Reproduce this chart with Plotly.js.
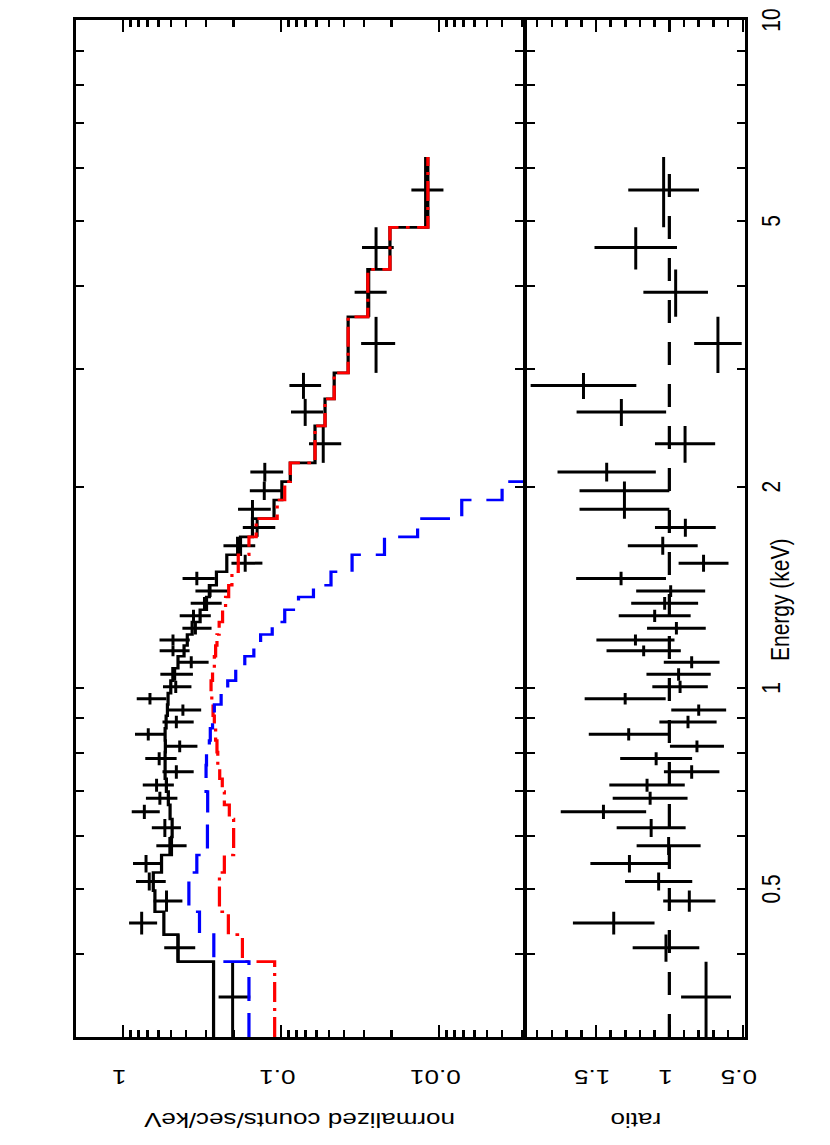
<!DOCTYPE html>
<html><head><meta charset="utf-8">
<script src="https://cdn.plot.ly/plotly-3.0.1.min.js"></script>
<style>
html,body{margin:0;padding:0;background:#fff;overflow:hidden;width:830px;height:1145px;}
#wrap{position:absolute;left:0;top:0;width:1145px;height:669px;transform-origin:0 0;transform:matrix(0,-1,1.24,0,0,1145);}
</style></head><body><div id="wrap"><div id="plot"></div></div>
<script>
// ---- data ----
const energyEdges = [0.300,0.389,0.427,0.462,0.497,0.529,0.562,0.598,0.636,0.668,0.699,0.731,0.766,0.801,0.834,0.870,0.908,0.944,0.982,1.025,1.070,1.115,1.157,1.202,1.255,1.309,1.368,1.424,1.492,1.582,1.683,1.792,1.911,2.036,2.172,2.467,2.708,2.962,3.593,4.232,4.892,6.236];
const counts = [0.203,0.45,0.764,0.532,0.684,0.717,0.507,0.545,0.735,0.586,0.615,0.461,0.592,0.439,0.694,0.461,0.419,0.677,0.465,0.472,0.371,0.484,0.484,0.349,0.359,0.306,0.282,0.342,0.169,0.189,0.142,0.152,0.128,0.127,0.0542,0.0705,0.0723,0.0251,0.0279,0.0251,0.0122];
const countErr = [0.046,0.100,0.154,0.110,0.146,0.150,0.110,0.114,0.148,0.132,0.137,0.103,0.133,0.100,0.148,0.103,0.098,0.144,0.095,0.110,0.083,0.104,0.105,0.073,0.080,0.068,0.067,0.079,0.0375,0.043,0.033,0.0356,0.030,0.0298,0.0125,0.0162,0.0164,0.0061,0.0064,0.0057,0.0028];
const ratio = [0.75,1.023,1.379,0.864,1.073,1.272,1.005,1.124,1.449,1.131,1.152,0.848,1.09,0.812,1.277,0.873,0.80,1.301,0.927,0.937,0.848,1.175,1.231,0.952,1.10,1.032,0.991,1.329,0.767,1.045,0.891,1.306,1.306,1.427,0.893,1.327,1.585,0.669,0.957,1.229,1.039];
const ratioErr = [0.17,0.227,0.278,0.178,0.229,0.266,0.218,0.235,0.291,0.255,0.257,0.189,0.245,0.184,0.272,0.195,0.187,0.276,0.189,0.219,0.19,0.253,0.266,0.20,0.245,0.228,0.235,0.306,0.17,0.238,0.207,0.306,0.306,0.335,0.205,0.305,0.36,0.162,0.22,0.281,0.241];
const modelTotal = [0.268,0.45,0.553,0.63,0.645,0.572,0.495,0.49,0.505,0.518,0.533,0.543,0.543,0.541,0.543,0.535,0.525,0.52,0.50,0.485,0.45,0.412,0.393,0.366,0.326,0.297,0.285,0.257,0.221,0.181,0.152,0.111,0.099,0.0876,0.0611,0.0528,0.0462,0.0377,0.0283,0.0205,0.0118];
const modelComp1 = [0.110,0.176,0.216,0.246,0.246,0.229,0.20,0.20,0.213,0.229,0.236,0.245,0.252,0.255,0.26,0.265,0.27,0.275,0.278,0.272,0.265,0.26,0.255,0.247,0.235,0.225,0.215,0.205,0.187,0.16,0.144,0.106,0.095,0.0876,0.0611,0.0528,0.0462,0.0377,0.0283,0.0205,0.0118];
const modelComp2 = [0.160,0.267,0.329,0.384,0.384,0.342,0.293,0.293,0.292,0.292,0.299,0.299,0.297,0.285,0.281,0.272,0.265,0.24,0.218,0.194,0.17,0.149,0.135,0.114,0.095,0.0777,0.0625,0.0484,0.0356,0.0222,0.0137,0.0072,0.0040,0.0022];
const ratioRef = [1,1];
const energyTickVals = [0.5,1,2,5,10];
const energyTickText = ['0.5','1','2','5','10'];
const energyMinorTicks = [0.4,0.6,0.7,0.8,0.9,3,4,6,7,8,9];
const countTickVals = [0.01,0.1,1];
const countTickText = ['0.01','0.1','1'];
const countMinorTicks = [0.003,0.004,0.005,0.006,0.007,0.008,0.009,0.02,0.03,0.04,0.05,0.06,0.07,0.08,0.09,0.2,0.3,0.4,0.5,0.6,0.7,0.8,0.9,2];
const ratioTickVals = [0.5,1,1.5];
const ratioTickText = ['0.5','1','1.5'];

// ---- derived ----
const nB = counts.length;
const eCenter = [], eHi = [], eLo = [];
for (let i = 0; i < nB; i++) {
  const c = (energyEdges[i] + energyEdges[i+1]) / 2;
  eCenter.push(c); eHi.push(energyEdges[i+1] - c); eLo.push(c - energyEdges[i]);
}
const stepX = v => energyEdges.slice(0, v.length + 1);
const stepY = v => v.concat([v[v.length - 1]]);

const FONT = 'Liberation Sans, Arial, Helvetica, sans-serif';
const FS = 21;
const W = 1145, H = 669;
const LW = 2.6;

const traces = [
  {x: eCenter, y: counts, xaxis: 'x', yaxis: 'y', type: 'scatter', mode: 'markers',
   marker: {size: 0.1, color: 'black'},
   error_x: {type: 'data', array: eHi, arrayminus: eLo, symmetric: false, width: 0, thickness: 2.4, color: 'black'},
   error_y: {type: 'data', array: countErr, width: 0, thickness: 3, color: 'black'}},
  {x: stepX(modelTotal), y: stepY(modelTotal), xaxis: 'x', yaxis: 'y', type: 'scatter', mode: 'lines',
   line: {shape: 'hv', color: 'black', width: LW}},
  {x: stepX(modelComp1), y: stepY(modelComp1), xaxis: 'x', yaxis: 'y', type: 'scatter', mode: 'lines',
   line: {shape: 'hv', color: '#ff0000', width: LW, dash: '20px,6px,3px,6px'}},
  {x: stepX(modelComp2), y: stepY(modelComp2), xaxis: 'x', yaxis: 'y', type: 'scatter', mode: 'lines',
   line: {shape: 'hv', color: '#0000ff', width: LW, dash: '24px,12px'}},
  {x: eCenter, y: ratio, xaxis: 'x', yaxis: 'y2', type: 'scatter', mode: 'markers',
   marker: {size: 0.1, color: 'black'},
   error_x: {type: 'data', array: eHi, arrayminus: eLo, symmetric: false, width: 0, thickness: 2.4, color: 'black'},
   error_y: {type: 'data', array: ratioErr, width: 0, thickness: 3, color: 'black'}},
  {x: [energyEdges[0], energyEdges[energyEdges.length-1]], y: ratioRef, xaxis: 'x', yaxis: 'y2', type: 'scatter', mode: 'lines',
   line: {color: 'black', width: LW, dash: '23px,19px'}}
];

const XLW = 2.5;
const mL = 108, mR = 20, mT = 60.5, mB = 67.8;
const plotH = H - mT - mB;
const split = 176.6 / plotH;
const upperBottom = split + XLW / plotH;
const upperH = plotH * (1 - upperBottom), lowerH = plotH * split;
const longTick = 12;

const tickShape = (yref, y0, y1) => ({type: 'line', xref: 'x', yref: yref, x0: Math.log10(1), x1: Math.log10(1), y0: y0, y1: y1, line: {color: 'black', width: 2}});

const layout = {
  width: W, height: H,
  margin: {l: mL, r: mR, t: mT, b: mB, pad: 0},
  paper_bgcolor: 'white', plot_bgcolor: 'white',
  showlegend: false,
  font: {family: FONT, size: FS, color: 'black'},
  xaxis: {
    type: 'log', range: [Math.log10(0.3), Math.log10(10)], anchor: 'y2', domain: [0, 1],
    showline: true, linecolor: 'black', linewidth: XLW, mirror: 'allticks',
    ticks: 'inside', ticklen: 7, tickwidth: 2, tickcolor: 'black',
    tickmode: 'array', tickvals: energyTickVals, ticktext: energyTickText,
    tickfont: {family: FONT, size: FS}, showgrid: false, zeroline: false,
    minor: {tickmode: 'array', tickvals: energyMinorTicks, ticks: 'inside', ticklen: 7, tickwidth: 2, tickcolor: 'black', showgrid: false}
  },
  yaxis: {
    type: 'log', range: [Math.log10(0.00293), Math.log10(2.0)], anchor: 'x', domain: [upperBottom, 1],
    showline: true, linecolor: 'black', linewidth: 3, mirror: 'ticks',
    ticks: 'inside', ticklen: 12, tickwidth: 2, tickcolor: 'black',
    tickmode: 'array', tickvals: countTickVals, ticktext: countTickText, tickangle: -90,
    ticklabelstandoff: 22,
    tickfont: {family: FONT, size: FS}, showgrid: false, zeroline: false,
    minor: {tickmode: 'array', tickvals: countMinorTicks, ticks: 'inside', ticklen: 7, tickwidth: 2, tickcolor: 'black', showgrid: false},
    title: {text: 'normalized counts/sec/keV', font: {family: FONT, size: FS}, standoff: 18}
  },
  yaxis2: {
    type: 'linear', range: [0.483, 1.973], anchor: 'x', domain: [0, split],
    showline: true, linecolor: 'black', linewidth: 3, mirror: 'ticks',
    ticks: 'inside', ticklen: 12, tickwidth: 2, tickcolor: 'black',
    tickmode: 'array', tickvals: ratioTickVals, ticktext: ratioTickText, tickangle: -90,
    ticklabelstandoff: 22,
    tickfont: {family: FONT, size: FS}, showgrid: false, zeroline: false,
    minor: {tick0: 0, dtick: 0.1, ticks: 'inside', ticklen: 7, tickwidth: 2, tickcolor: 'black', showgrid: false},
    title: {text: 'ratio', font: {family: FONT, size: FS}, standoff: 18}
  },
  annotations: [
    {text: 'Energy (keV)', xref: 'paper', yref: 'paper', x: 0.43, y: -0.051, xanchor: 'center', yanchor: 'middle',
     showarrow: false, font: {family: FONT, size: FS, color: 'black'}}
  ],
  shapes: [
    tickShape('y domain', 0, longTick / upperH), tickShape('y domain', 1, 1 - longTick / upperH),
    tickShape('y2 domain', 0, longTick / lowerH), tickShape('y2 domain', 1, 1 - longTick / lowerH)
  ]
};

Plotly.newPlot('plot', traces, layout, {staticPlot: true, displayModeBar: false});
</script>
</body></html>
